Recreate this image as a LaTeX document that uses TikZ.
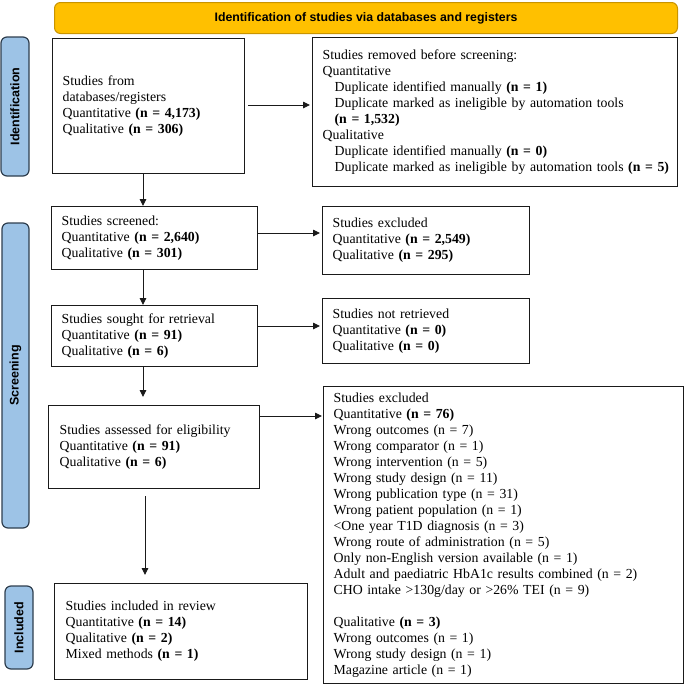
\documentclass[tikz,border=0pt]{standalone}
\usepackage{fontspec}
\setmainfont{Liberation Serif}
\newfontfamily\hdfont{Liberation Sans}
\usetikzlibrary{arrows.meta,calc}
\definecolor{bannerfill}{HTML}{FFC000}
\definecolor{bannerline}{HTML}{C99400}
\definecolor{sidefill}{HTML}{9DC3E6}
\definecolor{sideline}{HTML}{2E3E4E}
\definecolor{ink}{HTML}{1A1A1A}
\tikzset{
  fbox/.style={draw=ink, line width=1.3pt, rectangle, anchor=north west, align=left,
    inner xsep=10pt, inner ysep=0pt, font=\fontsize{13.8}{16}\selectfont},
  side/.style={draw=sideline, fill=sidefill, line width=1.2pt, rounded corners=6pt,
    rotate=90, inner sep=0pt, font=\hdfont\bfseries\fontsize{12.5}{14}\selectfont},
  arr/.style={draw=ink, line width=0.9pt, -{Triangle[length=7pt,width=6.5pt]}},
}
\newcommand{\ind}{\hspace*{12pt}}
\begin{document}
\begin{tikzpicture}
\useasboundingbox (0,0) rectangle (685pt,-686pt);

% banner
\node[draw=bannerline, fill=bannerfill, rounded corners=6pt, line width=1pt,
  minimum width=623pt, minimum height=31pt, anchor=north west,
  font=\hdfont\bfseries\fontsize{12.3}{14}\selectfont] (ban) at (54pt,-2pt)
  {Identification of studies via databases and registers};

% side labels
\node[side, minimum width=139pt, minimum height=28pt] (lid) at (15pt,-106.5pt) {Identification};
\node[side, minimum width=305pt, minimum height=27pt] (lsc) at (15.5pt,-375.5pt) {Screening};
\node[side, minimum width=83pt, minimum height=28pt] (lin) at (19pt,-627.5pt) {Included};

% boxes
\node[fbox, minimum width=192pt, minimum height=135pt, text width=172pt] (box1) at (52pt,-38pt)
  {Studies from\\databases/registers\\Quantitative \textbf{(n = 4,173)}\\Qualitative \textbf{(n = 306)}};

\node[fbox, minimum width=365pt, minimum height=149pt, text width=345pt] (removed) at (312pt,-37pt)
  {Studies removed before screening:\\
   Quantitative\\
   \ind Duplicate identified manually \textbf{(n = 1)}\\
   \mbox{\ind Duplicate marked as ineligible by automation tools}\\
   \ind\textbf{(n = 1,532)}\\
   Qualitative\\
   \ind Duplicate identified manually \textbf{(n = 0)}\\
   \mbox{\ind Duplicate marked as ineligible by automation tools \textbf{(n = 5)}}};

\node[fbox, minimum width=206pt, minimum height=63pt, text width=186pt] (screened) at (51pt,-206pt)
  {Studies screened:\\Quantitative \textbf{(n = 2,640)}\\Qualitative \textbf{(n = 301)}};

\node[fbox, minimum width=207pt, minimum height=68pt, text width=187pt] (excl) at (322pt,-206pt)
  {Studies excluded\\Quantitative \textbf{(n = 2,549)}\\Qualitative \textbf{(n = 295)}};

\node[fbox, minimum width=206pt, minimum height=61pt, text width=186pt] (sought) at (51pt,-305pt)
  {Studies sought for retrieval\\Quantitative \textbf{(n = 91)}\\Qualitative \textbf{(n = 6)}};

\node[fbox, minimum width=207pt, minimum height=65pt, text width=187pt] (notretr) at (322pt,-298pt)
  {Studies not retrieved\\Quantitative \textbf{(n = 0)}\\Qualitative \textbf{(n = 0)}};

\node[fbox, minimum width=211pt, minimum height=83pt, text width=189pt, inner xsep=11pt] (assessed) at (48pt,-405pt)
  {Studies assessed for eligibility\\Quantitative \textbf{(n = 91)}\\Qualitative \textbf{(n = 6)}};

\node[fbox, minimum width=360pt, minimum height=297pt, text width=340pt] (big) at (323pt,-386pt)
  {Studies excluded\\
   Quantitative \textbf{(n = 76)}\\
   Wrong outcomes (n = 7)\\
   Wrong comparator (n = 1)\\
   Wrong intervention (n = 5)\\
   Wrong study design (n = 11)\\
   Wrong publication type (n = 31)\\
   Wrong patient population (n = 1)\\
   <One year T1D diagnosis (n = 3)\\
   Wrong route of administration (n = 5)\\
   Only non-English version available (n = 1)\\
   Adult and paediatric HbA1c results combined (n = 2)\\
   CHO intake >130g/day or >26\% TEI (n = 9)\\[16pt]
   Qualitative \textbf{(n = 3)}\\
   Wrong outcomes (n = 1)\\
   Wrong study design (n = 1)\\
   Magazine article (n = 1)};

\node[fbox, minimum width=253pt, minimum height=96pt, text width=231pt, inner xsep=11pt] (included) at (54pt,-583pt)
  {Studies included in review\\Quantitative \textbf{(n = 14)}\\Qualitative \textbf{(n = 2)}\\Mixed methods \textbf{(n = 1)}};

% connectors
\coordinate (vx) at (143pt,0);
\coordinate (vx2) at (145pt,0);
\coordinate (h1) at (0,-105pt);
\coordinate (h2) at (0,-233pt);
\coordinate (h3) at (0,-326pt);
\coordinate (h4) at (0,-416pt);

\draw[arr] (box1.south -| vx) -- (screened.north -| vx);
\draw[arr] (screened.south -| vx) -- (sought.north -| vx);
\draw[arr, shorten >=8pt] (sought.south -| vx) -- (assessed.north -| vx);
\draw[arr, shorten <=7pt, shorten >=8pt] (assessed.south -| vx2) -- (included.north -| vx2);

\draw[arr, shorten <=3pt, shorten >=2pt] (box1.east |- h1) -- (removed.west |- h1);
\draw[arr, shorten >=2pt] (screened.east |- h2) -- (excl.west |- h2);
\draw[arr, shorten >=2pt] (sought.east |- h3) -- (notretr.west |- h3);
\draw[arr, shorten >=1pt] (assessed.east |- h4) -- (big.west |- h4);
\end{tikzpicture}
\end{document}
